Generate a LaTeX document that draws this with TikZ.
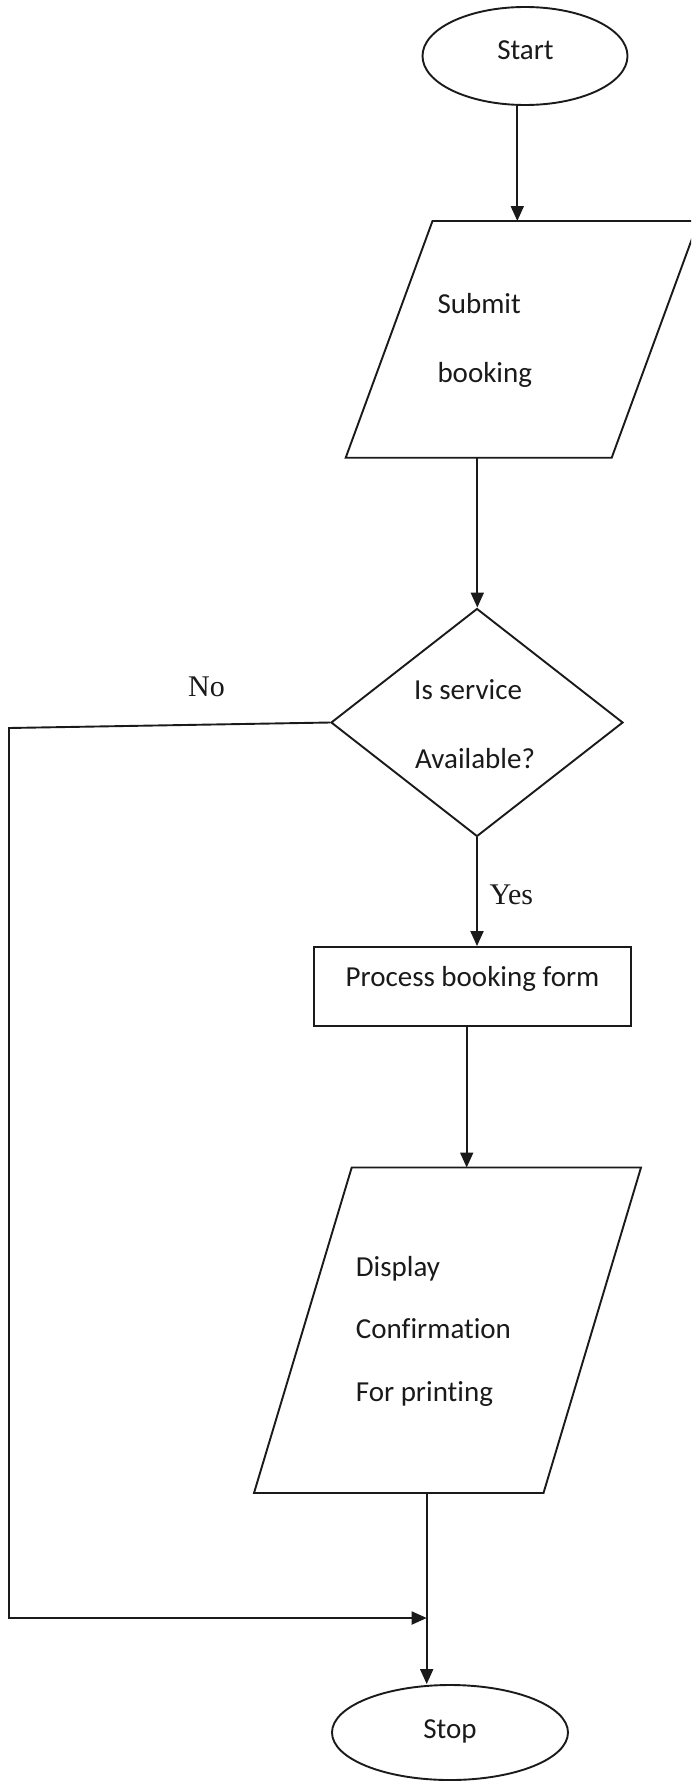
\documentclass[tikz,border=0pt]{standalone}
\usepackage{fontspec}
\setmainfont{Carlito}[Ligatures=NoCommon]
\newfontfamily\serifface{Liberation Serif}
\usetikzlibrary{shapes.geometric,arrows.meta}
\definecolor{ink}{HTML}{1A1A1A}
\begin{document}
\begin{tikzpicture}[x=1pt,y=-1pt,
  line/.style={draw=ink,line width=1.9pt},
  arr/.style={line,-{Triangle[length=15pt,width=13pt]}},
  txt/.style={inner sep=0pt,anchor=base west,text=ink,font=\fontsize{29}{35}\selectfont},
  branch/.style={inner sep=0pt,anchor=base west,text=ink,font=\serifface\fontsize{30}{36}\selectfont},
  terminal/.style={ellipse,line,inner sep=0pt},
  decision/.style={diamond,line,inner sep=0pt},
  process/.style={rectangle,line,inner sep=0pt}
]
\clip (0,0) rectangle (691,1782);
\fill[white] (0,0) rectangle (691,1782);

% terminals, decision and process box
\node[terminal,minimum width=205pt,minimum height=98pt] (start) at (525,56) {};
\node[txt,anchor=base] (startT) at (525.5,60) {Start};

\node[decision,minimum width=292pt,minimum height=228pt] (avail) at (477,722.5) {};
\node[txt] (availA) at (414,699.3) {Is service};
\node[txt] (availB) at (415,768) {Available?};

\node[process,minimum width=317pt,minimum height=79pt] (proc) at (472.5,986.5) {};
\node[txt,anchor=base] (procT) at (472.5,986) {Process booking form};

\node[terminal,minimum width=236pt,minimum height=95pt] (stop) at (450,1732.5) {};
\node[txt,anchor=base] (stopT) at (450,1738) {Stop};

% input / output parallelograms
\coordinate (subTL) at (432.5,221);
\coordinate (subTR) at (698.5,221);
\coordinate (subBR) at (611.7,457.7);
\coordinate (subBL) at (345.7,457.7);
\draw[line] (subTL) -- (subTR) -- (subBR) -- (subBL) -- cycle;
\node[txt] (subA) at (437.3,313.3) {Submit};
\node[txt] (subB) at (437.3,382.7) {booking};

\coordinate (dspTL) at (351.7,1167.5);
\coordinate (dspTR) at (641,1167.5);
\coordinate (dspBR) at (543.5,1493);
\coordinate (dspBL) at (254,1493);
\draw[line] (dspTL) -- (dspTR) -- (dspBR) -- (dspBL) -- cycle;
\node[txt] (dspA) at (355.7,1276.7) {Display};
\node[txt] (dspB) at (355.7,1338) {Confirmation};
\node[txt] (dspC) at (355.7,1401.7) {For printing};

% connector end points
\coordinate (subIn) at (517.3,221);
\coordinate (subOut) at (477.3,457.7);
\coordinate (procOut) at (466.7,1026);
\coordinate (dspIn) at (466.7,1167.5);
\coordinate (dspOut) at (426.7,1493);
\coordinate (join) at (426.7,1618);
\coordinate (noCorner) at (9,728);
\coordinate (noDown) at (9,1618);

% flow
\draw[arr] (start.south -| subIn) -- (subIn);
\draw[arr] (subOut) -- (subOut |- avail.north);
\draw[arr] (avail.south) -- (avail.south |- proc.north);
\draw[arr] (procOut) -- (dspIn);
\draw[arr] (dspOut) -- (stop.north -| dspOut);
\draw[arr] (avail.west) -- (noCorner) -- (noDown) -- (join);

% branch labels
\node[branch] (noT) at (188,696) {No};
\node[branch] (yesT) at (489.3,904) {Yes};
\end{tikzpicture}
\end{document}
